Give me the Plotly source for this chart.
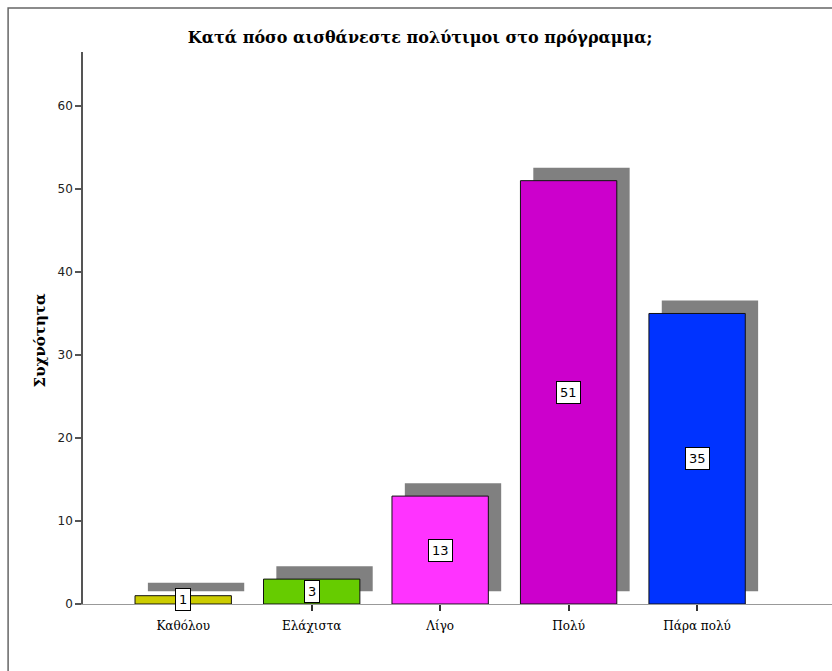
import plotly.graph_objects as go

# Survey responses: "How valued do you feel in the programme?"
categories = ["Καθόλου", "Ελάχιστα", "Λίγο", "Πολύ", "Πάρα πολύ"]
counts = [1, 3, 13, 51, 35]
bar_colors = ["#CCCC00", "#66CC00", "#FF33FF", "#CC00CC", "#0033FF"]

title_text = "Κατά πόσο αισθάνεστε πολύτιμοι στο πρόγραμμα;"
y_title = "Συχνότητα"
y_ticks = [0, 10, 20, 30, 40, 50, 60]

BAR_W = 0.75
SHADOW_DX = 0.10   # drop-shadow shift along the category axis
SHADOW_DY = 1.55   # drop-shadow lift in count units

x_idx = list(range(len(categories)))

fig = go.Figure()

# grey drop shadows behind each bar
fig.add_trace(go.Bar(
    x=x_idx, y=counts, base=[SHADOW_DY] * len(counts),
    width=BAR_W, offset=-BAR_W / 2 + SHADOW_DX,
    marker=dict(color="#808080", line=dict(width=0)),
    hoverinfo="skip", showlegend=False,
))

# coloured bars
fig.add_trace(go.Bar(
    x=x_idx, y=counts,
    width=BAR_W, offset=-BAR_W / 2,
    marker=dict(color=bar_colors, line=dict(color="#111111", width=1)),
    showlegend=False,
))

# boxed value labels in the middle of each bar
for i, v in enumerate(counts):
    fig.add_annotation(
        x=i, y=v / 2, text=str(v), showarrow=False,
        font=dict(family="DejaVu Sans", size=13, color="#000000"),
        bgcolor="#FFFFFF", bordercolor="#000000", borderwidth=1, borderpad=3,
    )

# y-axis title
fig.add_annotation(
    xref="paper", yref="paper", x=-0.057, y=0.478,
    xanchor="center", yanchor="middle",
    text=f"<b>{y_title}</b>", textangle=-90, showarrow=False,
    font=dict(family="DejaVu Serif", size=15, color="#000000"),
)

# outer chart frame
fig.add_shape(
    type="rect", xref="paper", yref="paper",
    x0=-0.1, y0=-0.2, x1=1.05, y1=1.0797,
    line=dict(color="#666666", width=1.5), layer="below",
)

fig.update_layout(
    width=832, height=671,
    margin=dict(l=83, r=0, t=52, b=67),
    paper_bgcolor="#FFFFFF", plot_bgcolor="#FFFFFF",
    barmode="overlay",
    title=dict(
        text=f"<b>{title_text}</b>", x=0.505, xref="container", xanchor="center",
        y=0.945, yref="container", yanchor="middle",
        font=dict(family="DejaVu Serif", size=16, color="#000000"),
    ),
    xaxis=dict(
        range=[-0.78, 5.05], tickmode="array", tickvals=x_idx, ticktext=categories,
        showgrid=False, zeroline=False, showline=True, linecolor="#999999", linewidth=1,
        ticks="outside", ticklen=6, tickcolor="#333333", tickwidth=1.5,
        ticklabelstandoff=5,
        tickfont=dict(family="DejaVu Serif", size=12, color="#000000"),
    ),
    yaxis=dict(
        range=[0, 66.5], tickmode="array", tickvals=y_ticks,
        showgrid=False, zeroline=False, showline=True, linecolor="#555555", linewidth=1.5,
        ticks="outside", ticklen=6, tickcolor="#555555", tickwidth=1.5,
        tickfont=dict(family="DejaVu Sans", size=12, color="#222222"),
    ),
)

fig.write_html("out.html")
